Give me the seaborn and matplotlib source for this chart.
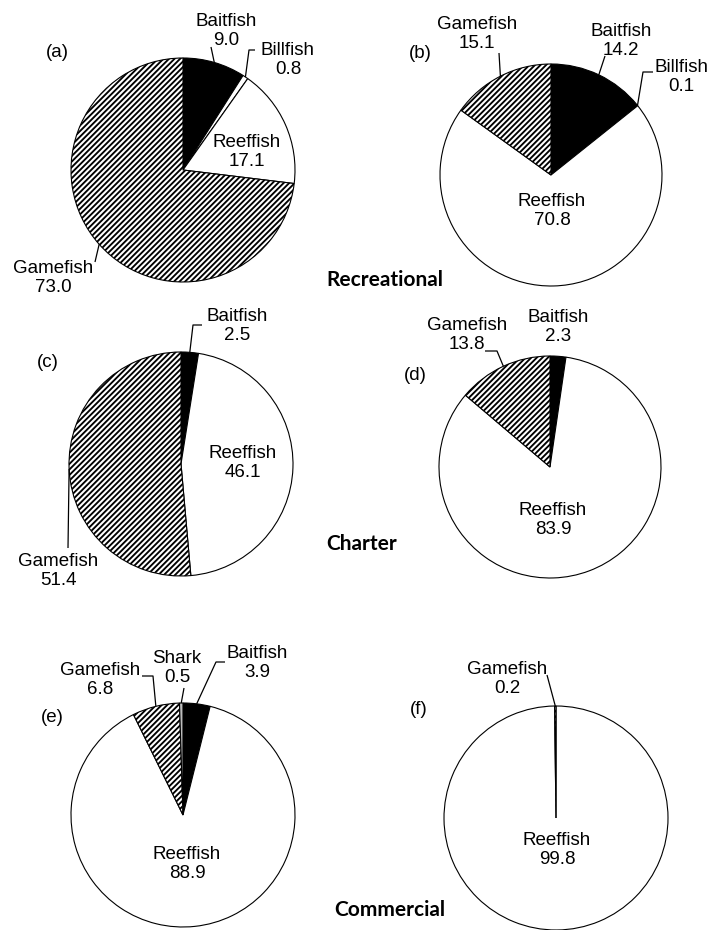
import numpy as np
import matplotlib
matplotlib.use("Agg")
import matplotlib.pyplot as plt
import seaborn as sns

# ---- catch composition (%) by fishery, slices clockwise from 12 o'clock ----
rec_groups = ["Baitfish", "Billfish", "Reeffish", "Gamefish"]
a_values = [9.0, 0.8, 17.1, 73.0]
b_values = [14.2, 0.1, 70.8, 15.1]

charter_groups = ["Baitfish", "Reeffish", "Gamefish"]
c_values = [2.5, 46.1, 51.4]
d_values = [2.3, 83.9, 13.8]

e_groups = ["Baitfish", "Reeffish", "Gamefish", "Shark"]
e_values = [3.9, 88.9, 6.8, 0.5]

f_groups = ["Reeffish", "Gamefish"]
f_values = [99.8, 0.2]

panel_tags = ["(a)", "(b)", "(c)", "(d)", "(e)", "(f)"]
fishery_names = ["Recreational", "Charter", "Commercial"]

# ---- styling per group ----
FILL = {"Baitfish": "black", "Billfish": "white", "Reeffish": "white",
        "Gamefish": "white", "Shark": "#bdbdbd"}
HATCH = {"Gamefish": "//////"}

sns.set_theme(style="white")
plt.rcParams["font.family"] = ["Liberation Sans", "DejaVu Sans"]
plt.rcParams["hatch.linewidth"] = 1.35
plt.rcParams["hatch.color"] = "black"

W, H = 709, 930
fig = plt.figure(figsize=(W / 100, H / 100), dpi=100)
ax = fig.add_axes([0, 0, 1, 1])


def P(x, y):
    """Pixel position (origin top-left) to axes coordinates."""
    return x, H - y


# layout: pie centre/radius, panel tag position, label placement with leader elbows
layout = [
    dict(groups=rec_groups, values=a_values, c=(183, 170), r=112, tag=(57, 52),
         labels={"Baitfish": ((226, 31), [(211, 47)]),
                 "Billfish": ((288, 60), [(255, 50), (249, 50)]),
                 "Reeffish": ((247, 152), None),
                 "Gamefish": ((53, 278), [(95, 262)])}),
    dict(groups=rec_groups, values=b_values, c=(551, 175), r=111, tag=(420, 53),
         labels={"Gamefish": ((477, 34), [(499, 53)]),
                 "Baitfish": ((621, 41), [(605, 56)]),
                 "Billfish": ((681, 77), [(653, 72), (643, 72)]),
                 "Reeffish": ((552, 211), None)}),
    dict(groups=charter_groups, values=c_values, c=(181, 464), r=112, tag=(48, 362),
         labels={"Baitfish": ((237, 326), [(202, 325), (193, 325)]),
                 "Reeffish": ((243, 463), None),
                 "Gamefish": ((58, 571), [(68, 548)])}),
    dict(groups=charter_groups, values=d_values, c=(550, 467), r=111, tag=(415, 375),
         labels={"Gamefish": ((467, 335), [(485, 351), (497, 351)]),
                 "Baitfish": ((558, 327), None),
                 "Reeffish": ((553, 520), None)}),
    dict(groups=e_groups, values=e_values, c=(183, 815), r=112, tag=(52, 717),
         labels={"Gamefish": ((100, 680), [(142, 676), (153, 676)]),
                 "Shark": ((177, 668), [(184, 688)]),
                 "Baitfish": ((257, 663), [(225, 662), (216, 662)]),
                 "Reeffish": ((187, 864), None)}),
    dict(groups=f_groups, values=f_values, c=(556, 818), r=112, tag=(419, 709),
         labels={"Gamefish": ((507, 679), [(547, 675)]),
                 "Reeffish": ((557, 850), None)}),
]

LABEL_FS = 13.5

for tag, spec in zip(panel_tags, layout):
    groups, values = spec["groups"], spec["values"]
    cx, cy = P(*spec["c"])
    wedges, _ = ax.pie(
        values,
        center=(cx, cy),
        radius=spec["r"],
        startangle=90,
        counterclock=False,
        colors=[FILL[g] for g in groups],
        hatch=[HATCH.get(g, "") for g in groups],
        wedgeprops=dict(edgecolor="black", linewidth=0.8),
    )
    for g, v, w in zip(groups, values, wedges):
        (lx, ly), elbows = spec["labels"][g]
        ax.text(*P(lx, ly), f"{g}\n{v:.1f}", ha="center", va="center",
                fontsize=LABEL_FS, linespacing=1.2, color="black")
        if elbows:
            mid = np.deg2rad((w.theta1 + w.theta2) / 2)
            ex = w.center[0] + w.r * np.cos(mid)
            ey = w.center[1] + w.r * np.sin(mid)
            pts = [P(*p) for p in elbows] + [(ex, ey)]
            xs, ys = zip(*pts)
            ax.plot(xs, ys, color="black", lw=0.9, solid_capstyle="butt")
    ax.text(*P(*spec["tag"]), tag, ha="center", va="center",
            fontsize=LABEL_FS, color="black")

for name, pos in zip(fishery_names, [(385, 280), (362, 544), (390, 910)]):
    ax.text(*P(*pos), name, ha="center", va="center", fontsize=15,
            fontweight="bold", family=["Lato", "DejaVu Sans"], color="black")

ax.set_xlim(0, W)
ax.set_ylim(0, H)
ax.set_aspect("equal")
ax.axis("off")

fig.savefig("out.png", dpi=100, facecolor="white")
